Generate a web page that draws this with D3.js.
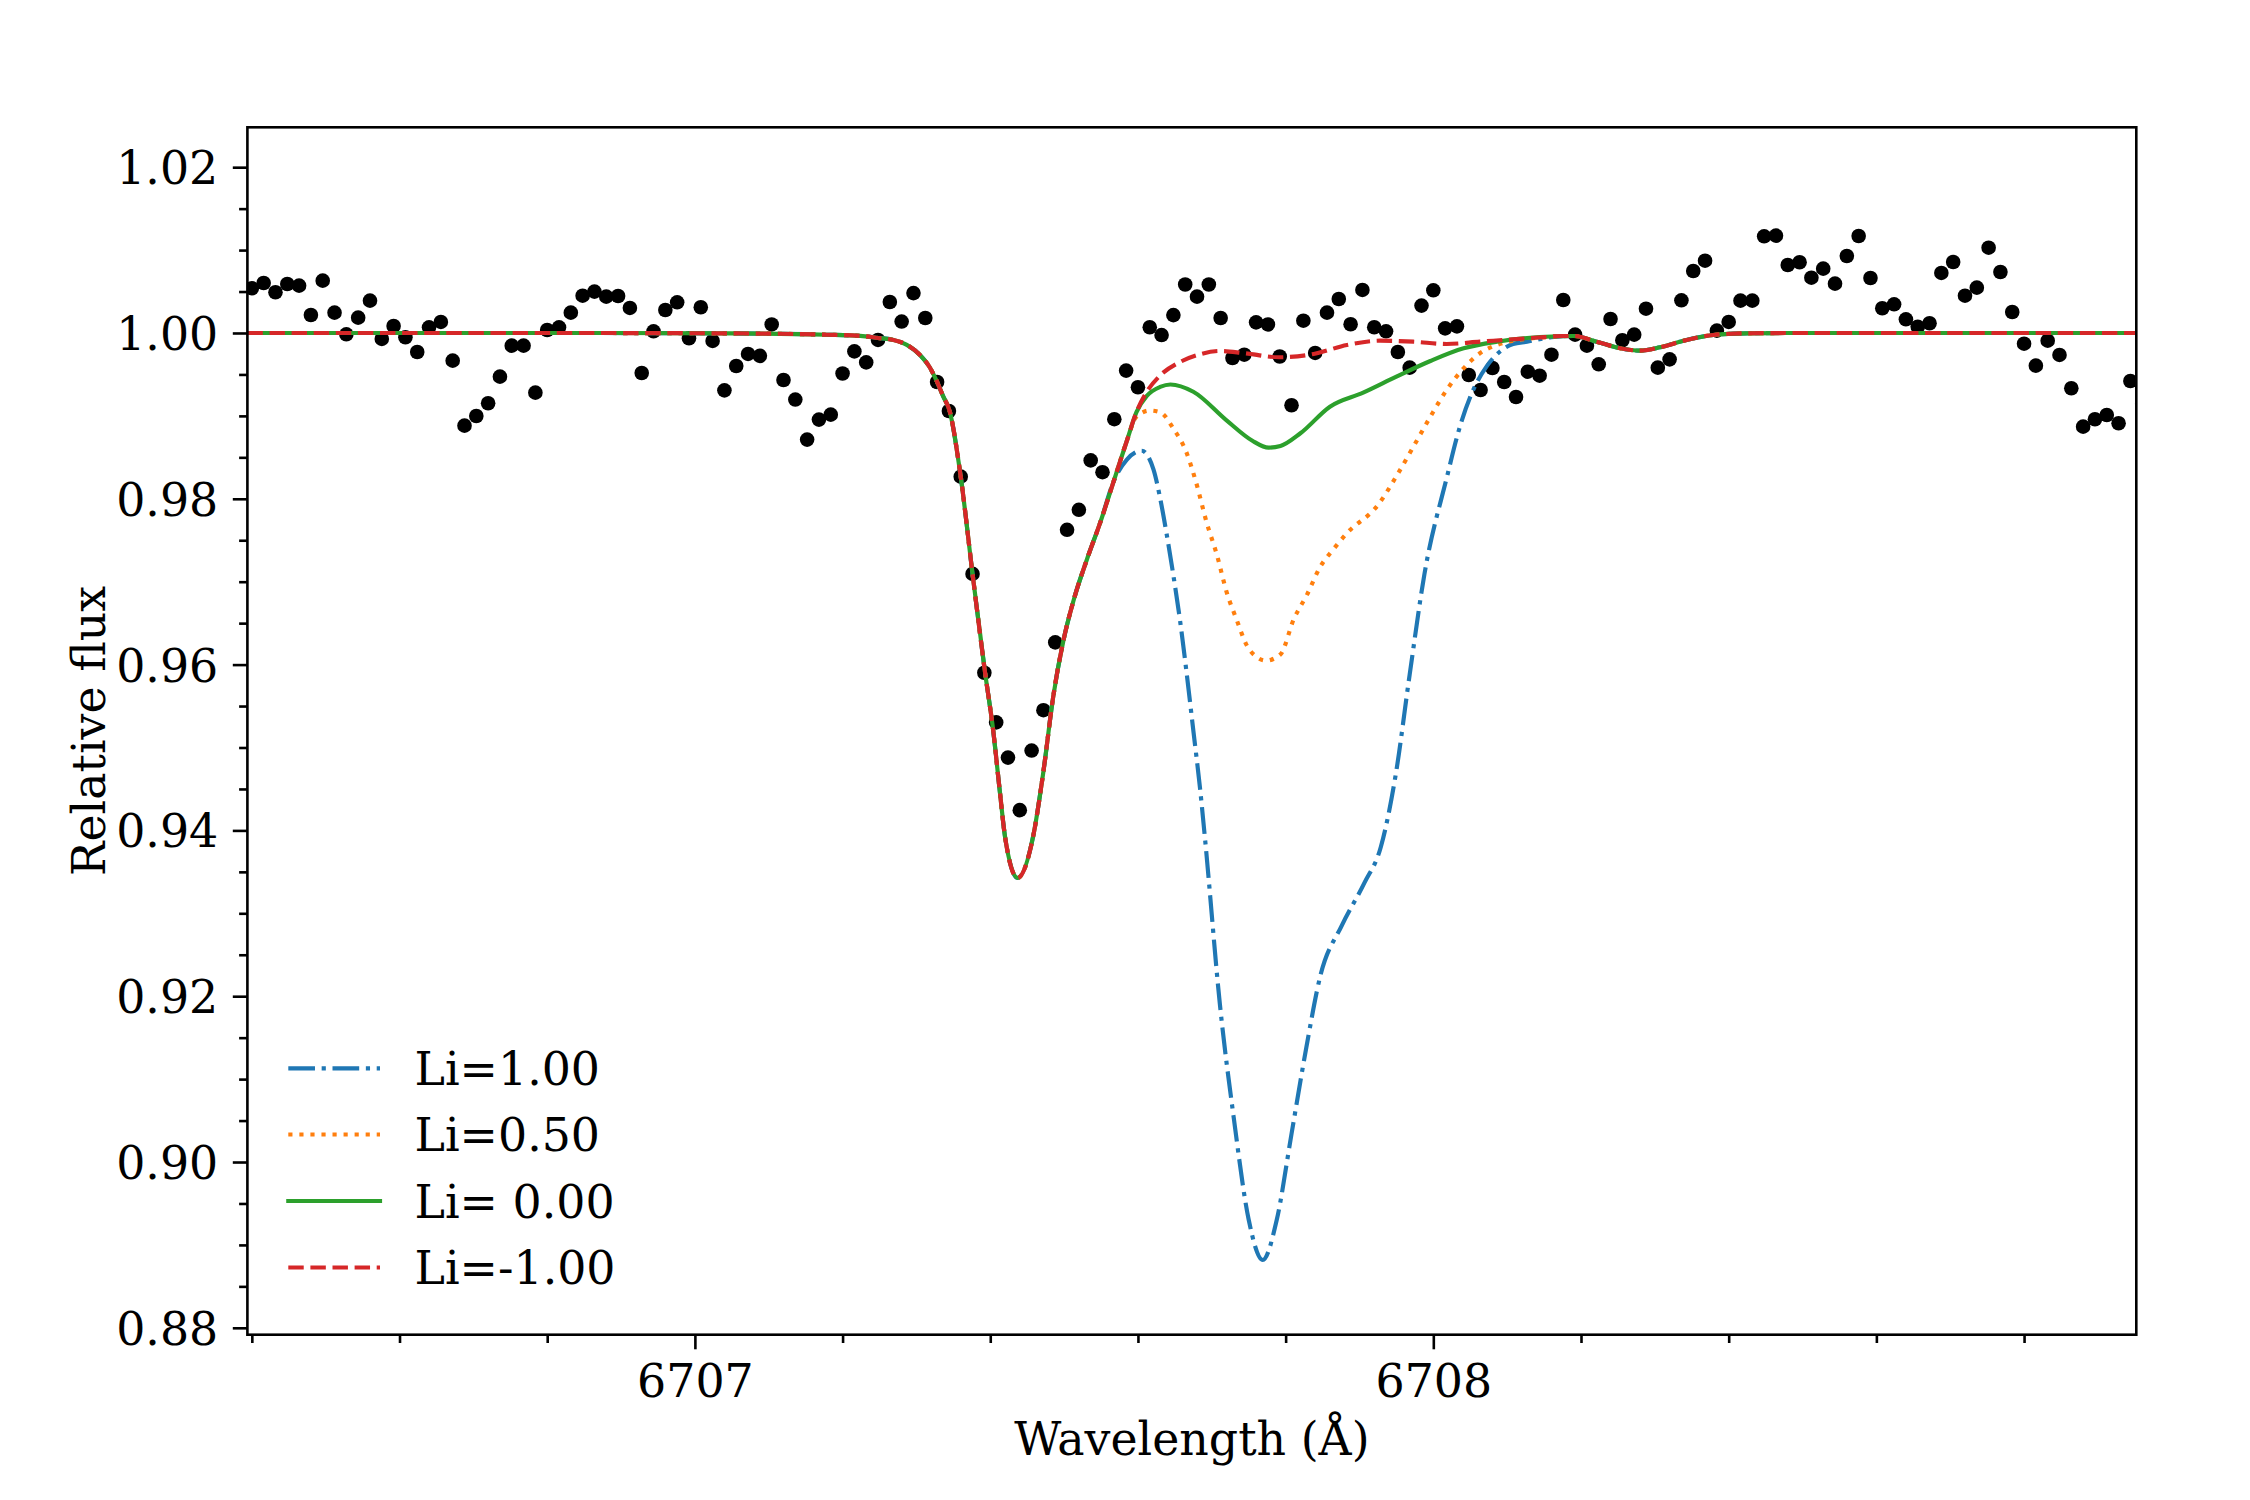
<!DOCTYPE html>
<html><head><meta charset="utf-8">
<script src="https://cdn.jsdelivr.net/npm/d3@7/dist/d3.min.js"></script>
<style>
body{margin:0;background:#fff}
svg{display:block}
text{font-family:"DejaVu Serif",serif;white-space:pre}
</style>
</head><body>
<svg id="chart" width="2250" height="1500"></svg>
<script>
// ---------- observed spectrum ----------
const obsWave = [
6706.400,6706.416,6706.432,6706.448,6706.464,6706.480,6706.496,6706.512,6706.528,6706.544,
6706.560,6706.576,6706.592,6706.608,6706.624,6706.640,6706.656,6706.672,6706.688,6706.704,
6706.720,6706.736,6706.752,6706.768,6706.784,6706.800,6706.816,6706.832,6706.848,6706.864,
6706.880,6706.896,6706.912,6706.928,6706.944,6706.960,6706.976,6706.992,6707.008,6707.024,
6707.040,6707.056,6707.072,6707.088,6707.104,6707.120,6707.136,6707.152,6707.168,6707.184,
6707.200,6707.216,6707.232,6707.248,6707.264,6707.280,6707.296,6707.312,6707.328,6707.344,
6707.360,6707.376,6707.392,6707.408,6707.424,6707.440,6707.456,6707.472,6707.488,6707.504,
6707.520,6707.536,6707.552,6707.568,6707.584,6707.600,6707.616,6707.632,6707.648,6707.664,
6707.680,6707.696,6707.712,6707.728,6707.744,6707.760,6707.776,6707.792,6707.808,6707.824,
6707.840,6707.856,6707.872,6707.888,6707.904,6707.920,6707.936,6707.952,6707.968,6707.984,
6708.000,6708.016,6708.032,6708.048,6708.064,6708.080,6708.096,6708.112,6708.128,6708.144,
6708.160,6708.176,6708.192,6708.208,6708.224,6708.240,6708.256,6708.272,6708.288,6708.304,
6708.320,6708.336,6708.352,6708.368,6708.384,6708.400,6708.416,6708.432,6708.448,6708.464,
6708.480,6708.496,6708.512,6708.528,6708.544,6708.560,6708.576,6708.592,6708.608,6708.624,
6708.640,6708.656,6708.672,6708.688,6708.704,6708.720,6708.736,6708.752,6708.768,6708.784,
6708.800,6708.816,6708.832,6708.848,6708.864,6708.880,6708.896,6708.912,6708.928,6708.944,
6708.960];
const obsFlux = [
1.00539,1.00603,1.00491,1.00591,1.00571,1.00217,1.00631,1.00245,0.99984,1.00185,
1.00390,0.99928,1.00084,0.99948,0.99771,1.00068,1.00133,0.99666,0.98882,0.98999,
0.99152,0.99473,0.99847,0.99847,0.99280,1.00036,1.00068,1.00245,1.00450,1.00499,
1.00438,1.00446,1.00302,0.99517,1.00020,1.00277,1.00370,0.99936,1.00310,0.99904,
0.99308,0.99602,0.99747,0.99724,1.00103,0.99433,0.99197,0.98714,0.98955,0.99015,
0.99511,0.99778,0.99645,0.99916,1.00374,1.00138,1.00481,1.00181,0.99409,0.99059,
0.98267,0.97094,0.95902,0.95303,0.94878,0.94244,0.94963,0.95450,0.96268,0.97626,
0.97867,0.98463,0.98321,0.98960,0.99546,0.99345,1.00069,0.99975,1.00216,1.00585,
1.00438,1.00585,1.00181,0.99698,0.99738,1.00128,1.00103,0.99716,0.99128,1.00148,
0.99759,1.00245,1.00410,1.00105,1.00519,1.00069,1.00020,0.99771,0.99582,1.00330,
1.00515,1.00056,1.00080,0.99493,0.99312,0.99578,0.99409,0.99228,0.99533,0.99485,
0.99738,1.00398,0.99980,0.99847,0.99622,1.00169,0.99912,0.99980,1.00293,0.99582,
0.99682,1.00394,1.00748,1.00872,1.00028,1.00133,1.00390,1.00390,1.01166,1.01174,
1.00820,1.00853,1.00667,1.00776,1.00595,1.00929,1.01170,1.00663,1.00298,1.00346,
1.00165,1.00076,1.00117,1.00724,1.00856,1.00450,1.00547,1.01029,1.00736,1.00253,
0.99871,0.99606,0.99907,0.99735,0.99333,0.98870,0.98959,0.99011,0.98911,0.99421,
0.99144];

// ---------- synthetic spectra ----------
const li100Wave = [6706.394,6706.800,6707.050,6707.178,6707.224,6707.248,6707.269,6707.287,6707.305,6707.318,6707.328,6707.336,6707.345,6707.360,6707.376,6707.393,6707.404,6707.413,6707.420,6707.437,6707.458,6707.472,6707.485,6707.499,6707.513,6707.531,6707.549,6707.567,
  6707.585,6707.605,6707.621,6707.630,6707.639,6707.648,6707.657,6707.666,6707.675,6707.684,6707.691,6707.711,6707.730,6707.750,6707.769,6707.788,6707.808,6707.828,6707.847,6707.876,6707.907,6707.929,6707.949,6707.968,6707.988,6708.018,6708.036,6708.054,6708.072,6708.090,6708.108,6708.127,6708.160,
  6708.190,6708.221,6708.253,6708.280,6708.307,6708.343,6708.379,6708.424,6708.500,6708.952];
const li100Flux = [1.00000,1.00000,0.99995,0.99979,0.99965,0.99940,0.99916,0.99857,0.99733,0.99586,0.99409,0.99241,0.99059,0.98267,0.97094,0.95902,0.95204,0.94466,0.93924,0.93426,0.93924,0.94712,0.95597,0.96287,0.96779,0.97271,0.97715,0.98207,
  0.98473,0.98579,0.98355,0.98010,0.97567,0.97075,0.96533,0.95893,0.95204,0.94514,0.93884,0.91900,0.90515,0.89303,0.88818,0.89303,0.90341,0.91380,0.92246,0.92852,0.93372,0.93803,0.94668,0.95881,0.97093,0.98247,0.98870,0.99312,0.99594,0.99774,0.99867,0.99895,0.99950,
  0.99964,0.99895,0.99815,0.99787,0.99827,0.99916,0.99976,0.99996,1.00000,1.00000];

const li050Wave = [6706.394,6706.800,6707.050,6707.178,6707.224,6707.248,6707.269,6707.287,6707.305,6707.318,6707.328,6707.336,6707.345,6707.360,6707.376,6707.393,6707.404,6707.413,6707.420,6707.437,6707.458,6707.472,6707.485,6707.499,6707.513,6707.531,6707.549,6707.567,6707.585,
  6707.598,6707.616,6707.630,6707.648,6707.666,6707.680,6707.693,6707.707,6707.720,6707.734,6707.747,6707.761,6707.773,6707.793,6707.811,6707.829,6707.847,6707.865,6707.883,6707.925,6707.951,6707.973,6707.996,6708.018,6708.041,6708.063,6708.086,6708.108,6708.131,6708.160,
  6708.190,6708.221,6708.253,6708.280,6708.307,6708.343,6708.379,6708.424,6708.500,6708.952];
const li050Flux = [1.00000,1.00000,0.99995,0.99979,0.99965,0.99940,0.99916,0.99857,0.99733,0.99586,0.99409,0.99241,0.99059,0.98267,0.97094,0.95902,0.95204,0.94466,0.93924,0.93426,0.93924,0.94712,0.95597,0.96287,0.96779,0.97271,0.97715,0.98207,0.98700,
  0.98990,0.99065,0.99045,0.98847,0.98552,0.98158,0.97715,0.97321,0.96878,0.96533,0.96238,0.96090,0.96048,0.96124,0.96548,0.96844,0.97182,0.97394,0.97585,0.97925,0.98287,0.98628,0.98990,0.99312,0.99574,0.99755,0.99855,0.99907,0.99934,0.99955,
  0.99964,0.99895,0.99815,0.99787,0.99827,0.99916,0.99976,0.99996,1.00000,1.00000];

const li000Wave = [6706.394,6706.800,6707.050,6707.178,6707.224,6707.248,6707.269,6707.287,6707.305,6707.318,6707.328,6707.336,6707.345,6707.360,6707.376,6707.393,6707.404,6707.413,6707.420,6707.437,6707.458,6707.472,6707.485,6707.499,6707.513,6707.531,6707.549,6707.567,6707.585,6707.598,
  6707.612,6707.630,6707.644,6707.675,6707.720,6707.755,6707.777,6707.793,6707.820,6707.860,6707.905,6707.950,6707.996,6708.041,6708.086,6708.131,6708.160,
  6708.190,6708.221,6708.253,6708.280,6708.307,6708.343,6708.379,6708.424,6708.500,6708.952];
const li000Flux = [1.00000,1.00000,0.99995,0.99979,0.99965,0.99940,0.99916,0.99857,0.99733,0.99586,0.99409,0.99241,0.99059,0.98267,0.97094,0.95902,0.95204,0.94466,0.93924,0.93426,0.93924,0.94712,0.95597,0.96287,0.96779,0.97271,0.97715,0.98207,0.98700,0.99045,
  0.99241,0.99349,0.99379,0.99291,0.98946,0.98700,0.98617,0.98637,0.98790,0.99111,0.99280,0.99473,0.99662,0.99815,0.99895,0.99943,0.99958,
  0.99964,0.99895,0.99815,0.99787,0.99827,0.99916,0.99976,0.99996,1.00000,1.00000];

const lim100Wave = [6706.394,6706.800,6707.050,6707.178,6707.224,6707.248,6707.269,6707.287,6707.305,6707.318,6707.328,6707.336,6707.345,6707.360,6707.376,6707.393,6707.404,6707.413,6707.420,6707.437,6707.458,6707.472,6707.485,6707.499,6707.513,6707.531,6707.549,6707.567,6707.585,6707.598,
  6707.612,6707.630,6707.657,6707.684,6707.711,6707.743,6707.791,6707.838,6707.883,6707.928,6707.973,6708.018,6708.063,6708.108,6708.150,6708.176,
  6708.190,6708.221,6708.253,6708.280,6708.307,6708.343,6708.379,6708.424,6708.500,6708.952];
const lim100Flux = [1.00000,1.00000,0.99995,0.99979,0.99965,0.99940,0.99916,0.99857,0.99733,0.99586,0.99409,0.99241,0.99059,0.98267,0.97094,0.95902,0.95204,0.94466,0.93924,0.93426,0.93924,0.94712,0.95597,0.96287,0.96779,0.97271,0.97715,0.98207,0.98700,0.99045,
  0.99291,0.99487,0.99650,0.99743,0.99783,0.99758,0.99707,0.99747,0.99855,0.99907,0.99895,0.99867,0.99895,0.99924,0.99950,0.99964,
  0.99964,0.99895,0.99815,0.99787,0.99827,0.99916,0.99976,0.99996,1.00000,1.00000];

const seriesLabels = ["Li=1.00", "Li=0.50", "Li= 0.00", "Li=-1.00"];
const seriesColors = ["#1f77b4", "#ff7f0e", "#2ca02c", "#d62728"];
const xMajorTicks = [6707, 6708];
const xMinorTicks = [6706.4, 6706.6, 6706.8, 6707.2, 6707.4, 6707.6, 6707.8, 6708.2, 6708.4, 6708.6, 6708.8];
const yMajorTicks = [0.88, 0.90, 0.92, 0.94, 0.96, 0.98, 1.00, 1.02];
const yMinorTicks = [0.885,0.89,0.895,0.905,0.91,0.915,0.925,0.93,0.935,0.945,0.95,0.955,0.965,0.97,0.975,0.985,0.99,0.995,1.005,1.01,1.015];
const xLabel = "Wavelength (Å)";
const yLabel = "Relative flux";

// ---------- drawing ----------
const FS = 45.83, LW = 4.17;
const L = 247.4, R = 2136.3, T = 127.3, B = 1334.7;
const svg = d3.select("#chart");
const x = d3.scaleLinear().domain([6706.394, 6708.952]).range([L, R]);
const y = d3.scaleLinear().domain([0.87917, 1.02481]).range([B, T]);

svg.append("defs").append("clipPath").attr("id","plotclip")
  .append("rect").attr("x",L).attr("y",T).attr("width",R-L).attr("height",B-T);

const plot = svg.append("g").attr("clip-path","url(#plotclip)");

// observed points
plot.append("g").selectAll("circle").data(d3.zip(obsWave, obsFlux)).join("circle")
  .attr("cx", d => x(d[0])).attr("cy", d => y(d[1])).attr("r", 7.3).attr("fill", "#000");

const dashes = [
  [LW*6.4, LW*1.6, LW*1, LW*1.6].join(","),
  [LW*1, LW*1.65].join(","),
  null,
  [LW*3.7, LW*1.6].join(",")
];
const series = [
  d3.zip(li100Wave, li100Flux),
  d3.zip(li050Wave, li050Flux),
  d3.zip(li000Wave, li000Flux),
  d3.zip(lim100Wave, lim100Flux)
];
const line = d3.line().x(d => x(d[0])).y(d => y(d[1])).curve(d3.curveMonotoneX);
series.forEach((s, k) => {
  plot.append("path").attr("d", line(s)).attr("fill","none")
    .attr("stroke", seriesColors[k]).attr("stroke-width", LW)
    .attr("stroke-dasharray", dashes[k]).attr("stroke-linejoin","round")
    .attr("stroke-linecap", k === 2 ? "square" : "butt");
});

// axes
function styleAxis(g){ g.select(".domain").remove(); g.selectAll("line").attr("stroke","#000").attr("stroke-width",2.6); }
svg.append("g").attr("transform",`translate(0,${B})`)
  .call(d3.axisBottom(x).tickValues(xMinorTicks).tickSize(8.3).tickFormat(""))
  .call(styleAxis);
const xg = svg.append("g").attr("transform",`translate(0,${B})`)
  .call(d3.axisBottom(x).tickValues(xMajorTicks).tickSize(14.6).tickPadding(14.6).tickFormat(d3.format("d")))
  .call(styleAxis);
xg.selectAll("text").attr("font-family",'"DejaVu Serif",serif').attr("font-size",FS).attr("fill","#000")
  .attr("y", 62).attr("dy", 0);
svg.append("g").attr("transform",`translate(${L},0)`)
  .call(d3.axisLeft(y).tickValues(yMinorTicks).tickSize(8.3).tickFormat(""))
  .call(styleAxis);
const yg = svg.append("g").attr("transform",`translate(${L},0)`)
  .call(d3.axisLeft(y).tickValues(yMajorTicks).tickSize(14.6).tickPadding(14.6).tickFormat(d3.format(".2f")))
  .call(styleAxis);
yg.selectAll("text").attr("font-family",'"DejaVu Serif",serif').attr("font-size",FS).attr("fill","#000")
  .attr("dy","0.36em");

// frame
svg.append("rect").attr("x",L).attr("y",T).attr("width",R-L).attr("height",B-T)
  .attr("fill","none").attr("stroke","#000").attr("stroke-width",2.6);

// axis labels
svg.append("text").attr("x",(L+R)/2).attr("y",1455).attr("text-anchor","middle")
  .attr("font-size",FS).attr("fill","#000").text(xLabel);
svg.append("text").attr("transform",`translate(105,${(T+B)/2}) rotate(-90)`).attr("text-anchor","middle")
  .attr("font-size",FS).attr("fill","#000").text(yLabel);

// legend
const legRows = [1068.3, 1134.5, 1201, 1267.5];
seriesLabels.forEach((lab, k) => {
  svg.append("line").attr("x1",288.3).attr("x2",380).attr("y1",legRows[k]).attr("y2",legRows[k])
    .attr("stroke",seriesColors[k]).attr("stroke-width",LW).attr("stroke-dasharray",dashes[k])
    .attr("stroke-linecap", k === 2 ? "square" : "butt");
  svg.append("text").attr("x",414.5).attr("y",legRows[k]+16.5).attr("font-size",FS).attr("fill","#000").text(lab);
});
</script>
</body></html>
